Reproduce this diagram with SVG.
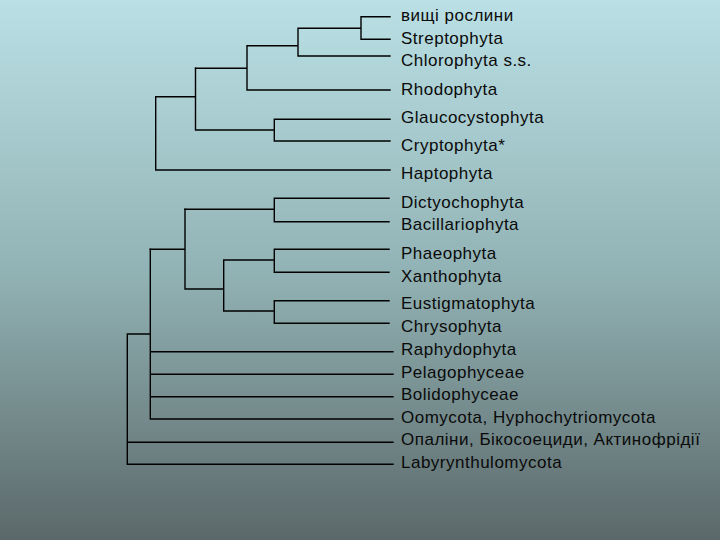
<svg xmlns="http://www.w3.org/2000/svg" width="720" height="540" viewBox="0 0 720 540">
<defs>
<linearGradient id="bg" x1="0" y1="0" x2="0" y2="1">
<stop offset="0" stop-color="#bae0e5"/>
<stop offset="0.5" stop-color="#92b3b5"/>
<stop offset="1" stop-color="#5b6869"/>
</linearGradient>
<style>
.e{fill:none;stroke:#000;stroke-width:1.4;stroke-linecap:square}
.t{font-family:"Liberation Sans",Arial,sans-serif;font-size:17px;letter-spacing:0.5px;fill:#0a0a0a}
</style>
</defs>
<rect width="720" height="540" fill="url(#bg)"/>
<g id="connectors" class="e">
<path d="M390 16.7H361V39.3H390M361 28.3H298M390 56H298V28.3M298 45.7H247M390 90H247V45.7M247 68.3H195.5"/>
<path d="M390 119.3H274.3V141H390M274.3 130H195.5V68.3M195.5 96.7H155.7M390 170H155.7V96.7"/>
<path d="M389 198.3H274.3V221.7H389M274.3 209.3H185"/>
<path d="M389 249.3H274.3V272.3H389M274.3 260H223.7M389 300.7H274.3V323.3H389M274.3 311H223.7V260M223.7 289H185V209.3M185 249.3H150.3"/>
<path d="M393 351.7H150.3M393 374.3H150.3M393 396.7H150.3M393 419H150.3V249.3M150.3 334H127.3M393 442.3H127.3M393 464.3H127.3V334"/>
</g>
<g id="n1"><text class="t" x="401" y="21">вищі рослини</text></g>
<g id="n2"><text class="t" x="401" y="43.5">Streptophyta</text></g>
<g id="n3"><text class="t" x="401" y="66">Chlorophyta s.s.</text></g>
<g id="n4"><text class="t" x="401" y="95">Rhodophyta</text></g>
<g id="n5"><text class="t" x="401" y="123">Glaucocystophyta</text></g>
<g id="n6"><text class="t" x="401" y="151">Cryptophyta*</text></g>
<g id="n7"><text class="t" x="401" y="179">Haptophyta</text></g>
<g id="n8"><text class="t" x="401" y="207.5">Dictyochophyta</text></g>
<g id="n9"><text class="t" x="401" y="229.5">Bacillariophyta</text></g>
<g id="n10"><text class="t" x="401" y="259">Phaeophyta</text></g>
<g id="n11"><text class="t" x="401" y="281.5">Xanthophyta</text></g>
<g id="n12"><text class="t" x="401" y="309">Eustigmatophyta</text></g>
<g id="n13"><text class="t" x="401" y="332">Chrysophyta</text></g>
<g id="n14"><text class="t" x="401" y="355">Raphydophyta</text></g>
<g id="n15"><text class="t" x="401" y="377.5">Pelagophyceae</text></g>
<g id="n16"><text class="t" x="401" y="400">Bolidophyceae</text></g>
<g id="n17"><text class="t" x="401" y="423">Oomycota, Hyphochytriomycota</text></g>
<g id="n18"><text class="t" x="401" y="445">Опаліни, Бікосоециди, Актинофрідії</text></g>
<g id="n19"><text class="t" x="401" y="468">Labyrynthulomycota</text></g>
</svg>
